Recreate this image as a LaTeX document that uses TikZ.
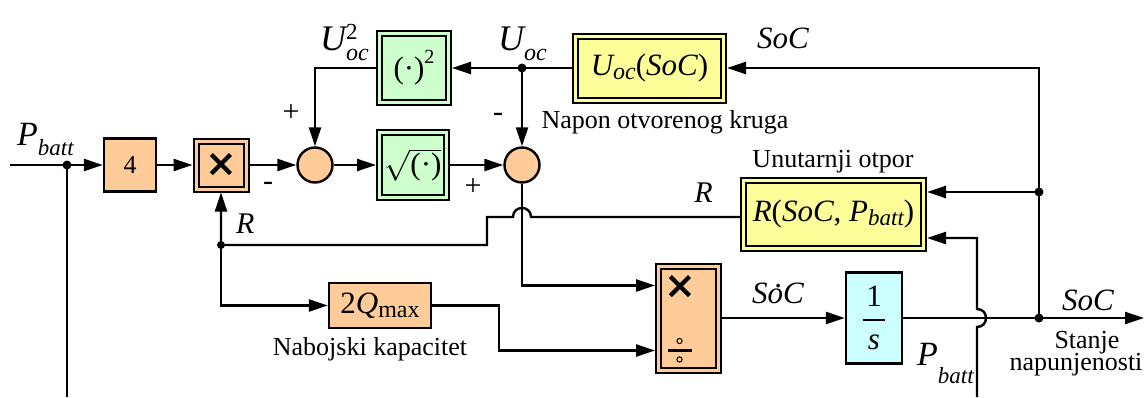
\RequirePackage{fix-cm}
\documentclass[tikz,border=0pt]{standalone}
\usepackage{amsmath}
\usepackage{fontspec}
\setmainfont{Liberation Serif}
\newfontfamily\djv{DejaVu Sans}
\usetikzlibrary{arrows.meta}
\definecolor{orng}{HTML}{FFCC99}
\definecolor{grn}{HTML}{CCFFCC}
\definecolor{yel}{HTML}{FFFF99}
\definecolor{cyn}{HTML}{CCFFFF}
\newcommand\txtf{\fontsize{26}{28}\selectfont}
\newcommand\mf{\fontsize{31}{33}\selectfont}
\newcommand\subsc[3]{\raisebox{-#1}{\fontsize{#2}{#2}\selectfont #3}}
\newcommand\crossf{\djv\bfseries\fontsize{38}{38}\selectfont}
\begin{document}
\begin{tikzpicture}[x=1pt,y=-1pt,
  ln/.style={line width=2.4pt},
  arr/.style={ln,-{Triangle[length=19pt,width=12pt]}},
  sblk/.style={draw,line width=2.4pt,inner sep=0pt},
  dblk/.style={draw,line width=2pt,double distance=3pt,outer sep=3.5pt,inner sep=0pt},
  sumc/.style={circle,draw,line width=2.4pt,fill=orng,minimum size=35pt,inner sep=0pt},
  jdot/.style={circle,fill=black,inner sep=0pt,minimum size=9pt},
  lbl/.style={inner sep=0pt,font=\txtf},
  mlbl/.style={inner sep=0pt,font=\mf}]
\useasboundingbox (0,0) rectangle (1144,397);
% blocks
\node[sblk,fill=orng,minimum width=52pt,minimum height=53pt,font=\txtf] (k4) at (130,165) {4};
\node[dblk,fill=orng,double=orng,minimum width=50pt,minimum height=48pt,font=\crossf] (mul) at (221,165) {×};
\node[sumc] (c1) at (315,165) {};
\node[sumc] (c2) at (522,165) {};
\node[dblk,fill=grn,double=grn,minimum width=69pt,minimum height=69pt,font=\mf] (sq) at (414,68) {(\textperiodcentered)\raisebox{0.48em}{\fontsize{20}{20}\selectfont 2}};
\node[dblk,fill=grn,double=grn,minimum width=67pt,minimum height=65pt,font=\mf] (sqr) at (413,165) {$\sqrt{\hbox{(\textperiodcentered)}}$};
\node[dblk,fill=yel,double=yel,minimum width=148pt,minimum height=64pt,font=\mf] (uoc) at (649.5,68) {\itshape U\subsc{0.13em}{24}{oc}\upshape(\itshape SoC\upshape)};
\node[dblk,fill=yel,double=yel,minimum width=180pt,minimum height=68pt,font=\mf] (rb) at (833.5,214.5) {\itshape R\upshape(\itshape SoC\upshape, \itshape P\subsc{0.1em}{23}{batt}\upshape)};
\node[sblk,fill=orng,minimum width=102pt,minimum height=45pt,font=\mf] (q) at (380,305.5) {2\itshape Q\upshape\subsc{0.15em}{24}{max}};
\node[dblk,fill=orng,double=orng,minimum width=60pt,minimum height=104pt] (dv) at (688.5,318) {};
\node[inner sep=0pt,font=\crossf] (dvx) at (680,287) {×};
\fill[black] (667.5,348.6) rectangle (691.5,351.6);
\draw[line width=1pt] (679.5,341) circle[radius=2.6pt];
\draw[line width=1pt] (679.5,359.5) circle[radius=2.6pt];
\node[sblk,fill=cyn,minimum width=56pt,minimum height=91pt,font=\mf] (ig) at (874,318) {$\genfrac{}{}{1.8pt}{0}{\hbox{\kern3pt 1\kern3pt}}{\hbox{\itshape s}}$};
% junctions and ends
\coordinate (inP) at (10,165);
\coordinate (bot1) at (67,397);
\coordinate (cTR) at (1039,68);
\coordinate (outS) at (1144,318);
\coordinate (pbB) at (977,397);
\coordinate (pbT) at (977,238);
\coordinate (rj) at (522,217);
\coordinate (rstep) at (487,217);
\node[jdot] (jP) at (67,165) {};
\node[jdot] (jU) at (522,68) {};
\node[jdot] (jS1) at (1039,192) {};
\node[jdot] (jS2) at (1039,318) {};
\node[jdot,minimum size=8pt] (jR) at (221,245) {};
% connectors
\draw[arr] (inP) -- (k4.west);
\draw[ln] (jP.center) -- (bot1);
\draw[arr] (k4) -- (mul);
\draw[arr] (mul) -- (c1);
\draw[arr] (c1) -- (sqr);
\draw[arr] (sqr) -- (c2);
\draw[arr] (uoc) -- (sq);
\draw[arr] (sq.west) -| (c1.north);
\draw[arr] (jU.center) -- (c2.north);
\draw[arr] (jS2.center) -- (cTR) -- (uoc.east);
\draw[arr] (jS1.center) -- (rb.east |- jS1);
\draw[arr] (pbB) -- (977,327) .. controls (989,327) and (989,309) .. (977,309) -- (pbT) -- (rb.east |- pbT);
\draw[arr] ([yshift=-2.5pt]rb.west) -- ([xshift=9pt]rj) .. controls +(0,-12) and +(0,-12) .. ([xshift=-9pt]rj) -- (rstep) |- (jR.center) -- (mul.south);
\draw[arr] (jR.center) |- (q.west);
\draw[arr] (q.east) -- ++(67,0) |- ([yshift=-32.5pt]dv.west);
\draw[arr] (c2.south) |- ([yshift=32.5pt]dv.west);
\draw[arr] (dv) -- (ig);
\draw[arr] (ig) -- (outS);
% labels
\node[inner sep=0pt,anchor=base west,font=\fontsize{34}{36}\selectfont] (lPb) at (17,145) {\itshape P\subsc{0.3em}{23}{batt}};
\node[inner sep=0pt,anchor=base west,font=\fontsize{36}{38}\selectfont] (lU2) at (320,50) {\itshape U\rlap{\raisebox{0.3em}{\fontsize{23}{23}\selectfont\upshape 2}}\subsc{0.3em}{24}{oc}};
\node[inner sep=0pt,anchor=base west,font=\fontsize{36}{38}\selectfont] (lU) at (498,50) {\itshape U\subsc{0.3em}{24}{oc}};
\node[mlbl,anchor=base west] (lS1) at (757,48) {\itshape SoC};
\node[lbl,anchor=base] (lNap) at (665,128) {Napon otvorenog kruga};
\node[lbl,anchor=base] (lUnu) at (833,167) {Unutarnji otpor};
\node[inner sep=0pt,anchor=base east,font=\fontsize{30}{32}\selectfont] (lR1) at (713,202) {\itshape R};
\node[inner sep=0pt,anchor=base west,font=\fontsize{30}{32}\selectfont] (lR2) at (236,233) {\itshape R};
\node[inner sep=0pt,font=\fontsize{30}{32}\selectfont] (p1) at (291,113) {+};
\node[inner sep=0pt,font=\fontsize{30}{32}\selectfont] (m1) at (268,186) {-};
\node[inner sep=0pt,font=\fontsize{30}{32}\selectfont] (m2) at (498,117) {-};
\node[inner sep=0pt,font=\fontsize{30}{32}\selectfont] (p2) at (473,187) {+};
\node[lbl,anchor=base] (lNab) at (370,355) {Nabojski kapacitet};
\node[mlbl,anchor=base west] (lSd) at (752,303) {\itshape S\makebox[0pt][l]{\kern0.24em\raisebox{0.5em}{.}}oC};
\node[mlbl,anchor=base west] (lS2) at (1062,310) {\itshape SoC};
\node[lbl,anchor=base] (lSt) at (1087,348) {Stanje};
\node[lbl,anchor=base] (lNap2) at (1076,370) {napunjenosti};
\node[inner sep=0pt,anchor=base west,font=\fontsize{34}{36}\selectfont] (lPb2) at (917,365) {\itshape P\subsc{0.55em}{23}{batt}};
\end{tikzpicture}
\end{document}
